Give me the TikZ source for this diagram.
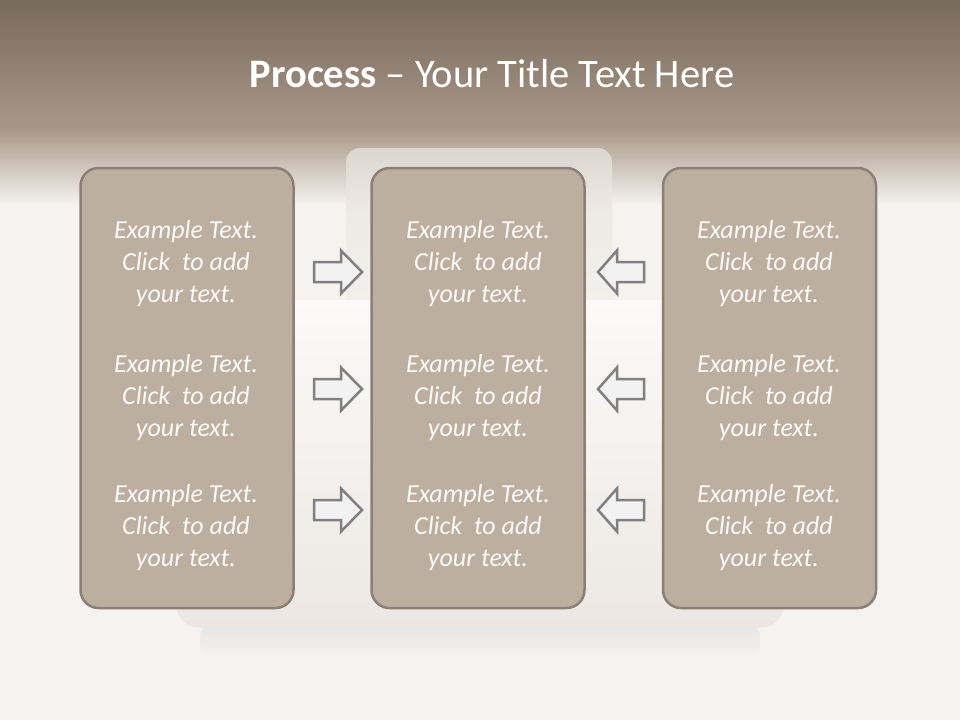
\documentclass[tikz,border=0pt]{standalone}
\usepackage{fontspec}
\setmainfont{Carlito}
\usetikzlibrary{positioning}
\definecolor{topBrown}{RGB}{120,106,92}
\definecolor{midBrown}{RGB}{168,151,135}
\definecolor{bgWhite}{RGB}{245,242,239}
\definecolor{sofaBack}{RGB}{230,224,218}
\definecolor{sofaSeat}{RGB}{236,231,226}
\definecolor{panelFill}{RGB}{189,175,160}
\definecolor{panelLine}{RGB}{138,128,118}
\definecolor{arrowLine}{RGB}{128,128,128}
\definecolor{arrowFill}{RGB}{242,242,243}
\definecolor{textWhite}{RGB}{252,250,248}

\begin{document}
\begin{tikzpicture}[
  x=1pt, y=-1pt,
  panel/.style={draw=panelLine, line width=2.5pt, fill=panelFill,
                rounded corners=18pt, minimum width=213pt, minimum height=440pt},
  boxtxt/.style={align=center, inner sep=0pt, text=textWhite,
                 font=\fontsize{26}{32}\selectfont\itshape},
  blockarrow/.style={draw=arrowLine, fill=arrowFill, line width=2.5pt, line join=miter},
  rarrow/.pic={\draw[blockarrow] (-24,-10) -- (3,-10) -- (3,-21.5) -- (24,0)
                 -- (3,21.5) -- (3,10) -- (-24,10) -- cycle;},
  larrow/.pic={\draw[blockarrow] (23,-10) -- (-4,-10) -- (-4,-21.5) -- (-23,0)
                 -- (-4,21.5) -- (-4,10) -- (23,10) -- cycle;},
]
\useasboundingbox (0,0) rectangle (960,720);

% backdrop: brown band fading into white
\fill[bgWhite] (0,0) rectangle (960,720);
\shade[top color=topBrown, bottom color=midBrown] (0,0) rectangle (960,128);
\shade[top color=midBrown, bottom color=bgWhite] (0,128) rectangle (960,205);

% faint sofa behind the panels
\shade[top color=sofaBack, bottom color=bgWhite, rounded corners=14pt, opacity=0.8]
  (346,148) rectangle (612,320);
\shade[top color=bgWhite!40!white, bottom color=sofaSeat, rounded corners=24pt]
  (176,300) rectangle (784,628);
\shade[top color=black!10, bottom color=bgWhite, rounded corners=10pt]
  (200,626) rectangle (760,656);

% title
\node[text=white, font=\fontsize{40.5}{48}\selectfont, anchor=base] (title) at (492,87)
  {\textbf{Process} -- Your Title Text Here};

% three panels
\node[panel] (left) at (187,388) {};
\node[panel] (mid) at (478,388) {};
\node[panel] (right) at (769.5,388) {};

% panel texts
\foreach \col/\cx in {L/186, M/478, R/769}{
  \foreach \row/\cy in {1/263.5, 2/397.5, 3/527.5}{
    \node[boxtxt] (\col\row) at (\cx,\cy)
      {Example Text.\\Click~ to add\\your text.};
  }
}

% block arrows pointing into the middle panel
\foreach \y in {272, 389, 510}{
  \pic at (338,\y) {rarrow};
  \pic at (621,\y) {larrow};
}

\end{tikzpicture}
\end{document}
